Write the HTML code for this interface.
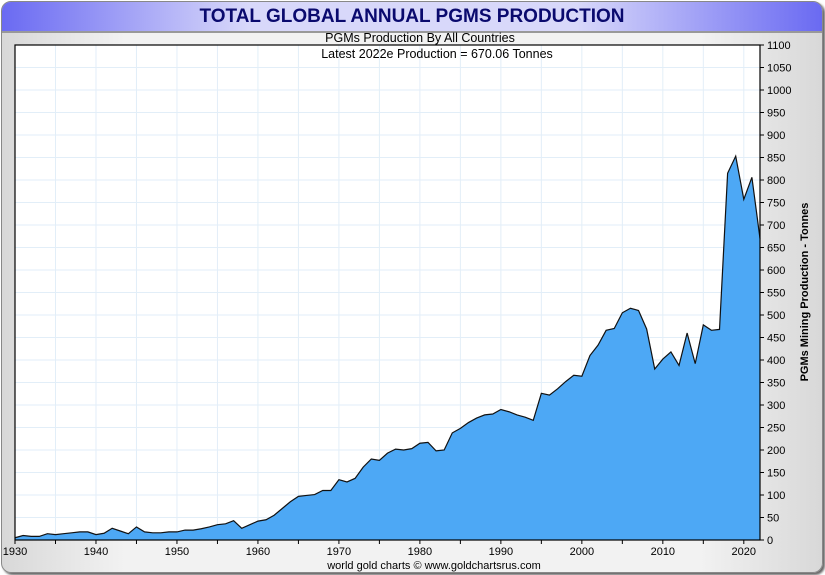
<!DOCTYPE html>
<html><head><meta charset="utf-8"><style>
html,body{margin:0;padding:0;width:825px;height:575px;overflow:hidden;background:#fff;font-family:"Liberation Sans",sans-serif}
#frame{position:absolute;left:1px;top:1px;width:820px;height:570px;border-radius:10px;border:1px solid #888;background:linear-gradient(90deg,#d8d8d8,#f2f2f2 15%,#f2f2f2 85%,#d8d8d8);box-shadow:2px 2px 2px #666;overflow:hidden}
#title{position:absolute;left:0;top:0;width:820px;height:29px;background:linear-gradient(90deg,#6a6af2,#d8d8fa 30%,#d8d8fa 70%,#6a6af2);border-bottom:2px solid #999;text-align:center;font:bold 19px "Liberation Sans",sans-serif;color:#0a0a6e;line-height:30px}
</style></head><body>
<div id="frame">
<div id="title">TOTAL GLOBAL ANNUAL PGMS PRODUCTION</div>
</div>
<svg id="chart" width="825" height="575" style="position:absolute;left:0;top:0"></svg>
<script>
const years=[];for(let y=1930;y<=2022;y++)years.push(y);
const production=[5,10,8,8,14,12,14,16,18,18,12,15,26,20,14,29,18,16,16,18,18,22,22,25,29,34,36,43,26,34,42,45,55,70,85,97,99,101,110,110,134,129,137,162,180,177,193,202,200,203,215,217,198,200,238,248,261,271,278,280,290,285,278,273,266,326,322,336,352,366,364,410,433,466,470,505,515,510,469,380,402,418,388,460,392,478,466,468,815,853,757,806,670];
const yTicks=[0,50,100,150,200,250,300,350,400,450,500,550,600,650,700,750,800,850,900,950,1000,1050,1100];
const xTicks=[1930,1940,1950,1960,1970,1980,1990,2000,2010,2020];
const L=15,R=760,T=45,B=540;
const xs=y=>L+(y-1930)*(R-L)/92;
const ys=v=>B-v*(B-T)/1100;
const svg=document.getElementById('chart');const NS='http://www.w3.org/2000/svg';
function mk(t,a,p){const e=document.createElementNS(NS,t);for(const k in a)e.setAttribute(k,a[k]);(p||svg).appendChild(e);return e;}
const bg=mk('rect',{x:L,y:T,width:R-L,height:B-T,fill:'#fff'});


const grid=mk('g',{stroke:'#e2eef8','stroke-width':1});


for(let y=1935;y<=2022;y+=5)mk('line',{x1:xs(y),x2:xs(y),y1:T,y2:B},grid);
yTicks.forEach(v=>{if(v>0&&v<1100)mk('line',{x1:L,x2:R,y1:ys(v),y2:ys(v)},grid);});
let d=`M${xs(years[0])},${B}`;years.forEach((y,i)=>d+=` L${xs(y)},${ys(production[i])}`);d+=` L${xs(years[years.length-1])},${B} Z`;
const area=mk('path',{d:d,fill:'#4da8f5'});


const line=mk('polyline',{points:years.map((y,i)=>xs(y)+','+ys(production[i])).join(' '),fill:'none',stroke:'#111','stroke-width':1.2});


const box=mk('rect',{x:L,y:T,width:R-L,height:B-T,fill:'none',stroke:'#000','stroke-width':1.2});


yTicks.forEach(v=>{mk('line',{x1:R,x2:R+4,y1:ys(v),y2:ys(v),stroke:'#000'});
const t=mk('text',{x:R+7,y:ys(v)+4,'font-size':11,fill:'#000'});t.textContent=v;

});
for(let y=1930;y<=2022;y+=5)mk('line',{x1:xs(y),x2:xs(y),y1:B,y2:B+4,stroke:'#000'});
xTicks.forEach(y=>{const t=mk('text',{x:xs(y),y:B+15,'font-size':11,'text-anchor':'middle'});t.textContent=y;

});
const yt=mk('text',{x:0,y:0,'font-size':11,'font-weight':'bold','text-anchor':'middle',transform:`translate(808,292) rotate(-90)`});yt.textContent='PGMs Mining Production - Tonnes';


const st=mk('text',{x:420,y:42,'font-size':12.5,'text-anchor':'middle'});st.textContent='PGMs Production By All Countries';


const lt=mk('text',{x:437,y:58,'font-size':12.5,'text-anchor':'middle'});lt.textContent='Latest 2022e Production = 670.06 Tonnes';


const ft=mk('text',{x:434,y:569,'font-size':11,'text-anchor':'middle'});ft.textContent='world gold charts © www.goldchartsrus.com';


</script>
</body></html>
